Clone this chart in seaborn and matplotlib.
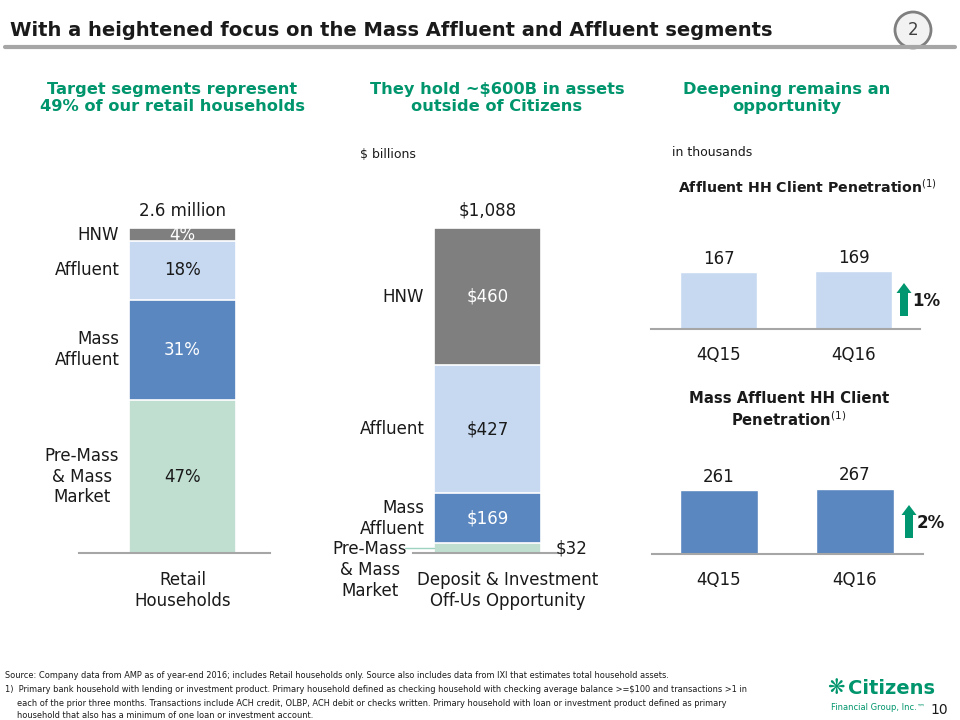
import matplotlib
matplotlib.use("Agg")
import matplotlib.pyplot as plt
from matplotlib.patches import Ellipse, FancyArrow
from matplotlib.lines import Line2D
from matplotlib.transforms import ScaledTranslation
import numpy as np
import pandas as pd
import seaborn as sns

W, H = 960, 720

# Data
segments = ["Pre-Mass\n& Mass\nMarket", "Mass\nAffluent", "Affluent", "HNW"]
household_pct = [47, 31, 18, 4]
household_labels = ["47%", "31%", "18%", "4%"]
offus_assets = [32, 169, 427, 460]
offus_labels = ["$32", "$169", "$427", "$460"]
quarters = ["4Q15", "4Q16"]
affluent_hh = [167, 169]
mass_affluent_hh = [261, 267]

segment_colors = ["#C0DFD1", "#5A87C0", "#C6D9F1", "#7F7F7F"]
inner_text = ["#1a1a1a", "white", "#1a1a1a", "white"]
GREEN = "#00956C"
AXIS_GRAY = "#A6A6A6"
TEXT = "#1a1a1a"

sns.set_theme(style="white")
plt.rcParams["font.family"] = ["DejaVu Sans"]

fig = plt.figure(figsize=(W / 100, H / 100), dpi=100)


def px_rect(x0, y0, x1, y1):
    return [x0 / W, 1 - y1 / H, (x1 - x0) / W, (y1 - y0) / H]


def ftext(x, y, s, **kw):
    fig.text(x / W, 1 - y / H, s, **kw)


def style_axis(ax, pad):
    for side in ["top", "left", "right"]:
        ax.spines[side].set_visible(False)
    ax.spines["bottom"].set_color(AXIS_GRAY)
    ax.spines["bottom"].set_linewidth(1.5)
    ax.set_yticks([])
    ax.set_xlabel("")
    ax.set_ylabel("")
    ax.tick_params(axis="x", length=0, pad=pad, labelsize=12, labelcolor=TEXT)


def stacked_bar(ax, category, values, width):
    cum = np.cumsum(values)
    df = pd.DataFrame({"cat": [category] * len(values), "cum": cum})
    # draw from the top total down so lower segments sit on top
    for i in reversed(range(len(values))):
        sns.barplot(data=df.iloc[[i]], x="cat", y="cum", color=segment_colors[i],
                    width=width, saturation=1, edgecolor="white", linewidth=1.2, ax=ax)
    return cum


# ---- Title bar ----
ftext(10, 30, "With a heightened focus on the Mass Affluent and Affluent segments",
      fontsize=14, fontweight="bold", color=TEXT, va="center", ha="left")
fig.add_artist(Line2D([5 / W, 955 / W], [1 - 47 / H, 1 - 47 / H], color=AXIS_GRAY, lw=3))
fig.add_artist(Ellipse((913 / W, 1 - 30 / H), 36 / W, 36 / H, transform=fig.transFigure,
                       facecolor="#F2F2F2", edgecolor="#7F7F7F", lw=2))
ftext(913, 30, "2", fontsize=12, color="#404040", ha="center", va="center")

# ---- Column headers ----
headers = [(172, "Target segments represent\n49% of our retail households"),
           (497, "They hold ~$600B in assets\noutside of Citizens"),
           (787, "Deepening remains an\nopportunity")]
for x, s in headers:
    ftext(x, 98, s, fontsize=11.7, fontweight="bold", color=GREEN,
          ha="center", va="center", linespacing=1.2)
ftext(360, 155, "$ billions", fontsize=9, color=TEXT, va="center")
ftext(672, 153, "in thousands", fontsize=9, color=TEXT, va="center")

# ---- Left: retail households ----
ax1 = fig.add_axes(px_rect(79, 200, 270, 553))
w1 = 0.56
cum1 = stacked_bar(ax1, "Retail\nHouseholds", household_pct, w1)
ax1.set_xlim(-(182.5 - 79) / 191, (270 - 182.5) / 191)
ax1.set_ylim(0, 353 / 3.25)
style_axis(ax1, pad=13)
bottoms1 = cum1 - np.array(household_pct)
for i, (lab, seg) in enumerate(zip(household_labels, segments)):
    mid = bottoms1[i] + household_pct[i] / 2
    ax1.text(0, mid, lab, ha="center", va="center", fontsize=12, color=inner_text[i])
    ax1.annotate(seg, (-w1 / 2, mid), xytext=(-7, 0), textcoords="offset points",
                 ha="right", va="center", fontsize=12, color=TEXT,
                 multialignment="center" if i == 0 else "right")
ax1.annotate("2.6 million", (0, cum1[-1]), xytext=(0, 6), textcoords="offset points",
             ha="center", va="bottom", fontsize=12, color=TEXT)

# ---- Middle: off-us assets ----
ax2 = fig.add_axes(px_rect(413, 200, 558, 553))
w2 = 0.6
unit2 = 107 / w2
cum2 = stacked_bar(ax2, "Deposit & Investment\nOff-Us Opportunity", offus_assets, w2)
ax2.set_xlim(-(487.5 - 413) / unit2, (558 - 487.5) / unit2)
ax2.set_ylim(0, 353 / (325 / cum2[-1]))
style_axis(ax2, pad=13)
for lbl in ax2.get_xticklabels():
    lbl.set_transform(lbl.get_transform() + ScaledTranslation(0.2, 0, fig.dpi_scale_trans))
bottoms2 = cum2 - np.array(offus_assets)
for i, (lab, seg) in enumerate(zip(offus_labels, segments)):
    mid = bottoms2[i] + offus_assets[i] / 2
    if i == 0:
        ax2.text(w2 / 2 + 0.08, mid, lab, ha="left", va="center", fontsize=12, color=TEXT)
        ax2.plot([-w2 / 2 - 0.16, -w2 / 2], [mid, mid], color="#9ED3C0", lw=1, clip_on=False)
        ftext(370, 540, seg, fontsize=12, color=TEXT, ha="center", va="top",
              multialignment="center", linespacing=1.2)
    else:
        ax2.text(0, mid, lab, ha="center", va="center", fontsize=12, color=inner_text[i])
        ax2.annotate(seg, (-w2 / 2, mid), xytext=(-7, 0), textcoords="offset points",
                     ha="right", va="center", fontsize=12, color=TEXT, multialignment="right")
ax2.annotate("$1,088", (0, cum2[-1]), xytext=(0, 6), textcoords="offset points",
             ha="center", va="bottom", fontsize=12, color=TEXT)

# ---- Right top: Affluent HH penetration ----
ftext(678, 187, "Affluent HH Client Penetration$^{(1)}$", fontsize=10.2, fontweight="bold",
      color=TEXT, ha="left", va="center")
ax3 = fig.add_axes(px_rect(651, 215, 920, 329))
sns.barplot(x=quarters, y=affluent_hh, color="#C6D9F1", width=0.57, saturation=1, ax=ax3)
ax3.set_xlim(-0.5, 1 + (920 - 853.5) / 135)
ax3.set_ylim(0, 114 * affluent_hh[0] / 57)
style_axis(ax3, pad=12)
ax3.bar_label(ax3.containers[0], padding=3, fontsize=12, color=TEXT)

# ---- Right bottom: Mass Affluent HH penetration ----
ftext(789, 410, "Mass Affluent HH Client\nPenetration$^{(1)}$", fontsize=10.7, fontweight="bold",
      color=TEXT, ha="center", va="center", linespacing=1.25)
ax4 = fig.add_axes(px_rect(652, 440, 923, 554))
sns.barplot(x=quarters, y=mass_affluent_hh, color="#5A87C0", width=0.57, saturation=1, ax=ax4)
ax4.set_xlim(-0.5 + (682 + 38.5 - 652 - 67.5) / 135, 1 + (923 - 855.5) / 135)
ax4.set_ylim(0, 114 * mass_affluent_hh[0] / 64)
style_axis(ax4, pad=12)
ax4.bar_label(ax4.containers[0], padding=3, fontsize=12, color=TEXT)

# growth arrows
for x, ytop, ybot, lab in [(904, 283, 316, "1%"), (909, 505, 538, "2%")]:
    fig.add_artist(FancyArrow(x / W, 1 - ybot / H, 0, (ybot - ytop) / H,
                              width=8 / W, head_width=15 / W, head_length=10 / H,
                              length_includes_head=True, transform=fig.transFigure,
                              color="#009670", lw=0))
    ftext(x + 8, (ytop + ybot) / 2 + 1, lab, fontsize=12, fontweight="bold", color=TEXT,
          ha="left", va="center")

# ---- Footnotes ----
notes = [
    (5, 676, "Source: Company data from AMP as of year-end 2016; includes Retail households only. Source also includes data from IXI that estimates total household assets."),
    (5, 690, "1)  Primary bank household with lending or investment product. Primary household defined as checking household with checking average balance >=$100 and transactions >1 in"),
    (17, 703, "each of the prior three months. Transactions include ACH credit, OLBP, ACH debit or checks written. Primary household with loan or investment product defined as primary"),
    (17, 716, "household that also has a minimum of one loan or investment account."),
]
for x, y, s in notes:
    ftext(x, y, s, fontsize=5.95, color=TEXT, ha="left", va="center")

# logo
ftext(836, 688, "❋", fontsize=15, color=GREEN, ha="center", va="center")
ftext(848, 688, "Citizens", fontsize=14, fontweight="bold", color=GREEN, ha="left", va="center")
ftext(925, 707, "Financial Group, Inc.\u2122", fontsize=6, color=GREEN, ha="right", va="center")
ftext(948, 710, "10", fontsize=10, color=TEXT, ha="right", va="center")

fig.savefig("out.png", dpi=100)
